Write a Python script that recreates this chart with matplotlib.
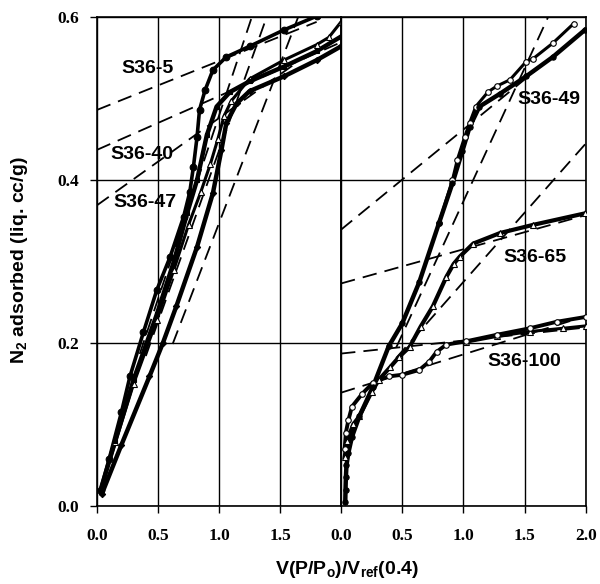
import numpy as np
import matplotlib
matplotlib.use("Agg")
import matplotlib.pyplot as plt

plt.rcParams["mathtext.fontset"] = "custom"
plt.rcParams["mathtext.rm"] = "Liberation Sans:bold"
plt.rcParams["mathtext.it"] = "Liberation Sans:bold"
plt.rcParams["mathtext.bf"] = "Liberation Sans:bold"

# ---------------------------------------------------------------------------
# Data (x = V(P/Po)/Vref(0.4), y = N2 adsorbed)
# ---------------------------------------------------------------------------

# left panel
s5_x = [0.03, 0.10, 0.20, 0.27, 0.38, 0.49, 0.60, 0.71, 0.76, 0.79, 0.82,
        0.84, 0.885, 0.95, 1.06, 1.25, 1.53, 1.80]
s5_y = [0.02, 0.058, 0.115, 0.159, 0.213, 0.265, 0.306, 0.355, 0.385, 0.416,
        0.453, 0.486, 0.510, 0.535, 0.551, 0.564, 0.584, 0.601]

s40_x = [0.03, 0.15, 0.30, 0.49, 0.63, 0.74, 0.82, 0.90, 0.98, 1.09, 1.25,
         1.53, 1.80, 2.00]
s40_y = [0.02, 0.08, 0.155, 0.235, 0.30, 0.36, 0.40, 0.455, 0.49, 0.508,
         0.521, 0.539, 0.558, 0.576]

s40t_x = [0.03, 0.15, 0.30, 0.49, 0.63, 0.75, 0.85, 0.93, 0.99, 1.04, 1.10,
          1.25, 1.53, 1.80, 1.90, 2.00]
s40t_y = [0.02, 0.078, 0.15, 0.228, 0.29, 0.345, 0.385, 0.42, 0.45, 0.478,
          0.497, 0.524, 0.547, 0.566, 0.575, 0.594]

s47_x = [0.04, 0.20, 0.43, 0.54, 0.65, 0.82, 0.95, 1.02, 1.06, 1.145, 1.25,
         1.53, 1.80, 2.00]
s47_y = [0.015, 0.075, 0.159, 0.20, 0.245, 0.318, 0.384, 0.437, 0.47, 0.494,
         0.509, 0.527, 0.547, 0.564]

# right panel
s49_x = [0.035, 0.037, 0.04, 0.045, 0.06, 0.09, 0.15, 0.26, 0.39, 0.50, 0.64,
         0.80, 0.91, 0.99, 1.05, 1.13, 1.30, 1.51, 1.73, 1.99]
s49_y = [0.005, 0.02, 0.035, 0.05, 0.065, 0.085, 0.11, 0.146, 0.196, 0.224,
         0.275, 0.347, 0.396, 0.435, 0.465, 0.49, 0.506, 0.527, 0.551, 0.584]

s49o_x = [0.80, 0.91, 0.95, 1.01, 1.05, 1.10, 1.20, 1.27, 1.38, 1.51, 1.57,
          1.73, 1.90]
s49o_y = [0.347, 0.40, 0.425, 0.453, 0.47, 0.49, 0.508, 0.515, 0.523, 0.545,
          0.549, 0.568, 0.592]

s65_x = [0.03, 0.05, 0.10, 0.15, 0.25, 0.31, 0.40, 0.475, 0.56, 0.65, 0.75,
         0.86, 0.92, 0.97, 1.08, 1.30, 1.57, 1.99]
s65_y = [0.06, 0.08, 0.10, 0.11, 0.14, 0.155, 0.17, 0.183, 0.195, 0.22,
         0.245, 0.281, 0.297, 0.306, 0.322, 0.335, 0.345, 0.359]

s100_x = [0.03, 0.04, 0.06, 0.09, 0.175, 0.26, 0.39, 0.50, 0.64, 0.72, 0.78,
          0.86, 1.02, 1.27, 1.54, 1.76, 2.00]
s100_y = [0.07, 0.09, 0.105, 0.122, 0.138, 0.151, 0.159, 0.161, 0.167, 0.177,
          0.189, 0.198, 0.202, 0.21, 0.218, 0.226, 0.232]

s100t_x = [1.02, 1.27, 1.54, 1.81, 2.00]
s100t_y = [0.201, 0.208, 0.214, 0.218, 0.221]

# dashed fit lines: (intercept, slope, x_start, x_end)
left_fits = [
    (0.486, 0.060, 0.0, 1.80),   # S36-5 plateau
    (0.437, 0.066, 0.0, 2.00),   # S36-40 plateau
    (0.369, 0.107, 0.0, 1.60),   # S36-47 plateau
    (0.029, 0.450, 0.35, 1.30),  # steep
    (0.016, 0.420, 0.40, 1.45),
    (-0.043, 0.390, 0.62, 1.66),
]
right_fits = [
    (0.339, 0.123, 0.0, 2.00),   # S36-49 plateau
    (0.047, 0.327, 0.45, 1.75),  # S36-49 steep
    (0.273, 0.042, 0.0, 2.00),   # S36-65 plateau
    (0.105, 0.170, 0.45, 2.00),  # S36-65 steep
    (0.187, 0.016, 0.0, 2.00),   # S36-100 plateau
    (0.139, 0.047, 0.0, 2.00),   # S36-100 lower
]

left_labels = [("S36-5", 0.41, 0.537), ("S36-40", 0.37, 0.431),
               ("S36-47", 0.39, 0.372)]
right_labels = [("S36-49", 1.70, 0.499), ("S36-65", 1.58, 0.305),
                ("S36-100", 1.50, 0.177)]

# ---------------------------------------------------------------------------
# Plot
# ---------------------------------------------------------------------------

SERIF = "Liberation Serif"
SANS = "Liberation Sans"

fig = plt.figure(figsize=(6.0, 5.84), dpi=100)
ax1 = fig.add_axes([0.1617, 0.1336, 0.4067, 0.8373])
ax2 = fig.add_axes([0.5683, 0.1336, 0.4083, 0.8373])


def draw_series(ax, x, y, marker, filled, ms, lw):
    ax.plot(x, y, "-", color="black", lw=lw, zorder=3)
    ax.plot(x, y, ls="none", marker=marker, ms=ms, color="black",
            mfc="black" if filled else "white", mew=0.8, zorder=4)


def draw_fits(ax, fits):
    for b, m, x0, x1 in fits:
        xs = np.array([x0, x1])
        ax.plot(xs, b + m * xs, color="black", lw=1.3, dashes=(8, 4.5),
                zorder=2)


draw_fits(ax1, left_fits)
draw_series(ax1, s47_x, s47_y, "D", True, 3.2, 3.2)
draw_series(ax1, s40t_x, s40t_y, "^", False, 4, 2.2)
draw_series(ax1, s40_x, s40_y, "s", True, 2.8, 3.2)
draw_series(ax1, s5_x, s5_y, "o", True, 4.8, 2.6)

draw_fits(ax2, right_fits)
draw_series(ax2, s100t_x, s100t_y, "^", False, 4, 2.2)
draw_series(ax2, s100_x, s100_y, "o", False, 4, 2.8)
draw_series(ax2, s65_x, s65_y, "^", False, 4, 3.0)
draw_series(ax2, s49o_x, s49o_y, "o", False, 4, 2.2)
draw_series(ax2, s49_x, s49_y, "o", True, 3.8, 3.2)

for ax, labels in [(ax1, left_labels), (ax2, right_labels)]:
    for txt, x, y in labels:
        ax.text(x, y, txt, ha="center", va="center", fontsize=14,
                fontweight="bold", family=SANS, zorder=6)

for ax in (ax1, ax2):
    ax.set_xlim(0, 2.0)
    ax.set_ylim(0, 0.6)
    ax.grid(True, color="black", lw=1.0)
    ax.set_axisbelow(True)
    for sp in ax.spines.values():
        sp.set_linewidth(1.2)
    ax.tick_params(direction="out", length=5, width=1.0, pad=11)

ax1.set_xticks([0.0, 0.5, 1.0, 1.5])
ax1.set_xticklabels(["0.0", "0.5", "1.0", "1.5"])
ax1.set_yticks([0.0, 0.2, 0.4, 0.6])
ax1.set_yticklabels(["0.0", "0.2", "0.4", "0.6"])
ax1.tick_params(axis="y", pad=8)

ax2.set_xticks([0.0, 0.5, 1.0, 1.5, 2.0])
ax2.set_xticklabels(["0.0", "0.5", "1.0", "1.5", "2.0"])
ax2.set_yticks([0.0, 0.2, 0.4, 0.6])
ax2.tick_params(axis="y", left=False, labelleft=False)

for ax in (ax1, ax2):
    for lab in ax.get_xticklabels() + ax.get_yticklabels():
        lab.set_fontfamily(SERIF)
        lab.set_fontweight("bold")
        lab.set_fontsize(12.5)

fig.text(0.033, 0.555, r"N$_{2}$ adsorbed (liq. cc/g)", rotation=90,
         ha="center", va="center", fontsize=14, fontweight="bold",
         family=SANS)
fig.text(0.578, 0.024, r"V(P/P$_{o}$)/V$_{ref}$(0.4)", ha="center",
         va="center", fontsize=14, fontweight="bold", family=SANS)

fig.savefig("out.png", dpi=100)
